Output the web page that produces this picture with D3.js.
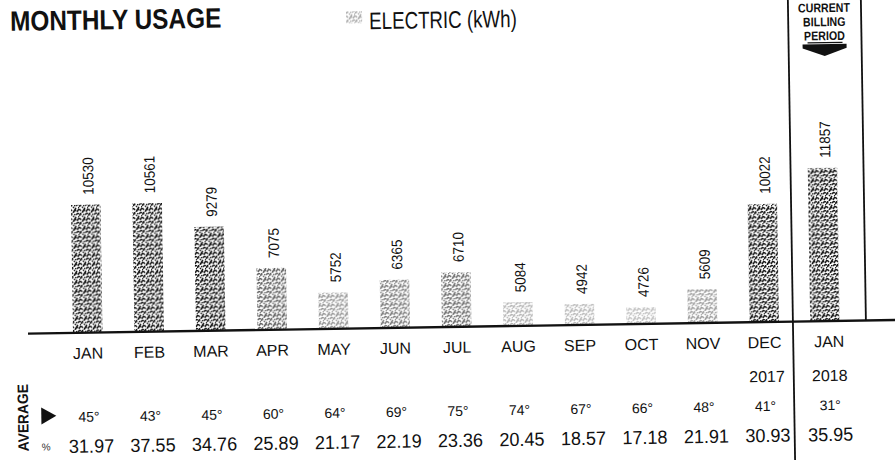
<!DOCTYPE html>
<html>
<head>
<meta charset="utf-8">
<script src="https://cdn.jsdelivr.net/npm/d3@7"></script>
<style>
  body { margin: 0; background: #fff; }
  svg { display: block; font-family: "Liberation Sans", Arial, sans-serif; }
</style>
</head>
<body>
<svg width="895" height="460"></svg>
<script>
// Monthly electric usage (kWh), Jan - Dec 2017
var months = ["JAN", "FEB", "MAR", "APR", "MAY", "JUN", "JUL", "AUG", "SEP", "OCT", "NOV", "DEC"];
var usage = [10530, 10561, 9279, 7075, 5752, 6365, 6710, 5084, 4942, 4726, 5609, 10022];
var avgTemps = [45, 43, 45, 60, 64, 69, 75, 74, 67, 66, 48, 41];
var avgDaily = [31.97, 37.55, 34.76, 25.89, 21.17, 22.19, 23.36, 20.45, 18.57, 17.18, 21.91, 30.93];
var years = ["", "", "", "", "", "", "", "", "", "", "", "2017"];

// current billing period
var curMonth = "JAN", curYear = "2018", curUsage = 11857, curTemp = 31, curDaily = 35.95;

var svg = d3.select("svg"),
    baseline = 327;

// the scan is a little crooked, so the whole chart is turned a bit
var root = svg.append("g")
    .attr("transform", "rotate(-0.9,450,330)");

// stipple texture for the bars
var defs = svg.append("defs");
var pat = defs.append("pattern")
    .attr("id", "stipple")
    .attr("patternUnits", "userSpaceOnUse")
    .attr("width", 9)
    .attr("height", 9);
pat.append("path")
    .attr("d", "M0,3 L2,0 M3,9 L6,4 M6,2 L8,0 M7,8 L9,5 M1,7 L2,6 M3,4 L4,3 M8,1 L9,0")
    .attr("stroke", "#111")
    .attr("stroke-width", 1.5);
[[4, 1], [0, 5], [5, 6], [8, 3], [1, 1], [3, 7]].forEach(function (p) {
    pat.append("rect").attr("x", p[0]).attr("y", p[1])
        .attr("width", 1.4).attr("height", 1.4).attr("fill", "#111");
});

var x = d3.scaleBand().domain(months).range([57, 795]).paddingInner(0.52).paddingOuter(0.26),
    xCur = d3.scaleBand().domain([curMonth]).range([794.3, 855.7]).paddingInner(0.52).paddingOuter(0.26),
    y = d3.scaleLinear().domain([3850, 12000]).range([baseline, baseline - 156]),
    shade = d3.scaleLinear().domain([4700, 9000]).range([0.25, 1]).clamp(true);

// squeeze text horizontally to look like a condensed face
function squeeze(sel, k) {
    sel.each(function () {
        var w = this.getComputedTextLength();
        d3.select(this).attr("textLength", w * k).attr("lengthAdjust", "spacingAndGlyphs");
    });
}

// title + legend
root.append("text")
    .attr("x", 15).attr("y", 24)
    .attr("font-size", 28).attr("font-weight", "bold")
    .attr("fill", "#111")
    .text("MONTHLY USAGE")
    .call(squeeze, 0.87);

root.append("rect")
    .attr("x", 351).attr("y", 10).attr("width", 16).attr("height", 12)
    .attr("fill", "url(#stipple)").attr("opacity", 0.35);
root.append("text")
    .attr("x", 374).attr("y", 28)
    .attr("font-size", 24).attr("fill", "#111")
    .text("ELECTRIC (kWh)")
    .call(squeeze, 0.78);

// current billing period box
var box = root.append("g");
box.append("line").attr("x1", 793).attr("y1", -10).attr("x2", 793).attr("y2", 470)
    .attr("stroke", "#111").attr("stroke-width", 1.8);
box.append("line").attr("x1", 866).attr("y1", -10).attr("x2", 866).attr("y2", baseline)
    .attr("stroke", "#111").attr("stroke-width", 1.8);
box.selectAll("text.hdr")
    .data(["CURRENT", "BILLING", "PERIOD"])
    .enter().append("text")
    .attr("class", "hdr")
    .attr("x", 829)
    .attr("y", function (d, i) { return 18 + i * 14; })
    .attr("text-anchor", "middle")
    .attr("font-size", 12.5).attr("font-weight", "bold").attr("fill", "#111")
    .text(function (d) { return d; })
    .call(squeeze, 0.85);
box.append("line").attr("x1", 812).attr("y1", 48.5).attr("x2", 847).attr("y2", 48.5)
    .attr("stroke", "#111").attr("stroke-width", 1.3);
box.append("path")
    .attr("d", "M807,50 L851,50 L851,54 L829,62 L807,54 Z")
    .attr("fill", "#111");

// bars
var g = root.append("g");

g.selectAll(".bar")
    .data(usage)
    .enter().append("rect")
    .attr("class", "bar")
    .attr("x", function (d, i) { return x(months[i]); })
    .attr("y", function (d) { return y(d); })
    .attr("width", x.bandwidth())
    .attr("height", function (d) { return baseline - y(d); })
    .attr("fill", "url(#stipple)")
    .attr("opacity", function (d) { return shade(d); });

g.append("rect")
    .attr("x", xCur(curMonth))
    .attr("y", y(curUsage))
    .attr("width", xCur.bandwidth())
    .attr("height", baseline - y(curUsage))
    .attr("fill", "url(#stipple)");

// rotated value labels
g.selectAll(".val")
    .data(usage)
    .enter().append("text")
    .attr("class", "val")
    .attr("transform", function (d, i) {
        return "translate(" + (x(months[i]) + x.bandwidth() / 2 + 8) + "," + (y(d) - 10) + ") rotate(-90)";
    })
    .attr("font-size", 15).attr("fill", "#111")
    .text(function (d) { return d; })
    .call(squeeze, 0.9);

g.append("text")
    .attr("transform", "translate(" + (xCur(curMonth) + xCur.bandwidth() / 2 + 8) + "," + (y(curUsage) - 10) + ") rotate(-90)")
    .attr("font-size", 15).attr("fill", "#111")
    .text(curUsage)
    .call(squeeze, 0.9);

// baseline
root.append("line")
    .attr("x1", 28).attr("y1", baseline).attr("x2", 905).attr("y2", baseline)
    .attr("stroke", "#111").attr("stroke-width", 2.4);

// table rows under the bars
var rows = root.append("g").attr("fill", "#111").attr("text-anchor", "middle");

function cx(i) { return x(months[i]) + x.bandwidth() / 2; }
var curX = xCur(curMonth) + xCur.bandwidth() / 2 + 4;

rows.selectAll(".mon").data(months).enter().append("text")
    .attr("x", function (d, i) { return cx(i); }).attr("y", 353)
    .attr("font-size", 16).text(function (d) { return d; });
rows.append("text").attr("x", curX).attr("y", 353).attr("font-size", 16).text(curMonth);

rows.selectAll(".yr").data(years).enter().append("text")
    .attr("x", function (d, i) { return cx(i) + 2; }).attr("y", 387)
    .attr("font-size", 16).text(function (d) { return d; });
rows.append("text").attr("x", curX).attr("y", 387).attr("font-size", 16).text(curYear);

rows.selectAll(".tmp").data(avgTemps).enter().append("text")
    .attr("x", function (d, i) { return cx(i); }).attr("y", 416)
    .attr("font-size", 14).text(function (d) { return d + "°"; });
rows.append("text").attr("x", curX).attr("y", 416).attr("font-size", 14).text(curTemp + "°");

rows.selectAll(".pct").data(avgDaily).enter().append("text")
    .attr("x", function (d, i) { return cx(i) + 2; }).attr("y", 447)
    .attr("font-size", 19).text(function (d) { return d.toFixed(2); })
    .call(squeeze, 0.95);
rows.append("text").attr("x", curX).attr("y", 447).attr("font-size", 19).text(curDaily.toFixed(2))
    .call(squeeze, 0.95);

// AVERAGE side label
root.append("text")
    .attr("transform", "translate(27,411) rotate(-90)")
    .attr("text-anchor", "middle")
    .attr("font-size", 15).attr("font-weight", "bold").attr("fill", "#111")
    .text("AVERAGE")
    .call(squeeze, 0.92);
root.append("path")
    .attr("d", "M40,401 L55,409.5 L40,418 Z")
    .attr("fill", "#111");
root.append("text")
    .attr("x", 40).attr("y", 444)
    .attr("font-size", 10).attr("fill", "#333")
    .text("%");
</script>
</body>
</html>
